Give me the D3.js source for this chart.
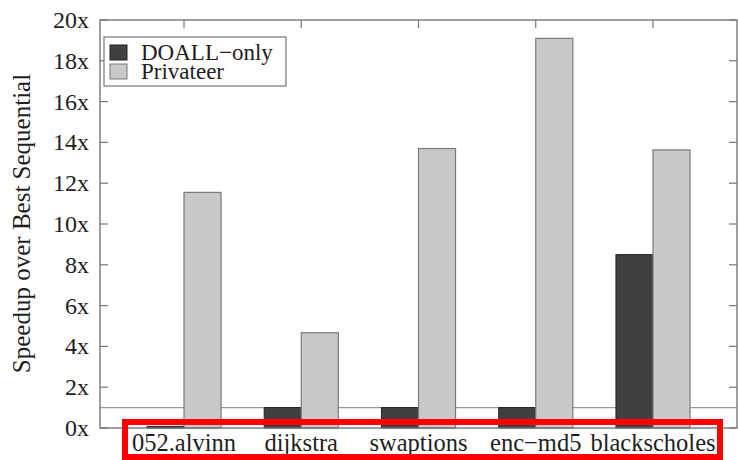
<!DOCTYPE html>
<html><head><meta charset="utf-8">
<script src="https://cdn.jsdelivr.net/npm/d3@7"></script>
</head><body style="margin:0;background:#fff">
<svg id="c" width="738" height="460" style="display:block"></svg>
<script>
const categories = ["052.alvinn","dijkstra","swaptions","enc\u2212md5","blackscholes"];
const doallOnly = [0.08, 1.0, 1.0, 1.0, 8.5];
const privateer = [11.55, 4.67, 13.7, 19.1, 13.63];
const seriesNames = ["DOALL\u2212only","Privateer"];
const yTicks = [0,2,4,6,8,10,12,14,16,18,20];

const svg = d3.select("#c");
const L=100,R=737,T=20,B=428;
const x = d3.scaleBand().domain(categories).range([L,R]).paddingInner(0).paddingOuter(0.2165);
const y = d3.scaleLinear().domain([0,20]).range([B,T]);
const bw = x.step()*0.316;
const cx = c => x(c)+x.bandwidth()/2;
const txt = (sel) => sel.attr("font-family","Liberation Serif").attr("fill","#1e1e1e");

// 1x reference line
svg.append("line").attr("x1",L).attr("x2",R).attr("y1",y(1)).attr("y2",y(1)).attr("stroke","#9a9a9a").attr("stroke-width",1.2);

// ticks (left/right/top/bottom, inward)
const g = svg.append("g");
yTicks.forEach(t=>{
  g.append("line").attr("x1",L).attr("x2",L+8).attr("y1",y(t)).attr("y2",y(t)).attr("stroke","#777").attr("stroke-width",1.2);
  g.append("line").attr("x1",R-8).attr("x2",R).attr("y1",y(t)).attr("y2",y(t)).attr("stroke","#777").attr("stroke-width",1.2);
  svg.append("text").attr("x",89).attr("y",y(t)+8).attr("text-anchor","end").attr("font-size",24).call(txt).text(t+"x");
});
categories.forEach(c=>{
  g.append("line").attr("x1",cx(c)).attr("x2",cx(c)).attr("y1",T).attr("y2",T+8).attr("stroke","#777").attr("stroke-width",1.2);
  g.append("line").attr("x1",cx(c)).attr("x2",cx(c)).attr("y1",B).attr("y2",B-8).attr("stroke","#777").attr("stroke-width",1.2);
});

// bars
svg.append("g").selectAll("rect").data(categories).join("rect")
  .attr("x",c=>cx(c)-bw).attr("width",bw)
  .attr("y",(c,i)=>y(doallOnly[i])).attr("height",(c,i)=>B-y(doallOnly[i]))
  .attr("fill","#404040").attr("stroke","#222").attr("stroke-width",1);
svg.append("g").selectAll("rect").data(categories).join("rect")
  .attr("x",c=>cx(c)).attr("width",bw)
  .attr("y",(c,i)=>y(privateer[i])).attr("height",(c,i)=>B-y(privateer[i]))
  .attr("fill","#c9c9c9").attr("stroke","#7a7a7a").attr("stroke-width",1.2);

// frame
svg.append("rect").attr("x",L).attr("y",T).attr("width",R-L).attr("height",B-T).attr("fill","none").attr("stroke","#777").attr("stroke-width",1.4);

// category labels
svg.append("g").selectAll("text").data(categories).join("text")
  .attr("x",c=>cx(c)).attr("y",451).attr("text-anchor","middle").attr("font-size",24.5).call(txt).text(c=>c);

// y label
svg.append("text").attr("transform","translate(30,223.5) rotate(-90)").attr("text-anchor","middle").attr("font-size",25).call(txt).text("Speedup over Best Sequential");

// legend
const lg = svg.append("g");
lg.append("rect").attr("x",104).attr("y",37).attr("width",182).attr("height",49).attr("fill","#fff").attr("stroke","#777").attr("stroke-width",1.2);
const fills=["#404040","#c9c9c9"], strokes=["#222","#7a7a7a"];
seriesNames.forEach((s,i)=>{
  lg.append("rect").attr("x",110).attr("y",45+i*19).attr("width",17).attr("height",15).attr("fill",fills[i]).attr("stroke",strokes[i]).attr("stroke-width",1);
  lg.append("text").attr("x",141).attr("y",60+i*19).attr("font-size",23).call(txt).text(s);
});

// red annotation box
svg.append("rect").attr("x",125).attr("y",422).attr("width",595).attr("height",35).attr("fill","none").attr("stroke","#f00").attr("stroke-width",6);
</script></body></html>
